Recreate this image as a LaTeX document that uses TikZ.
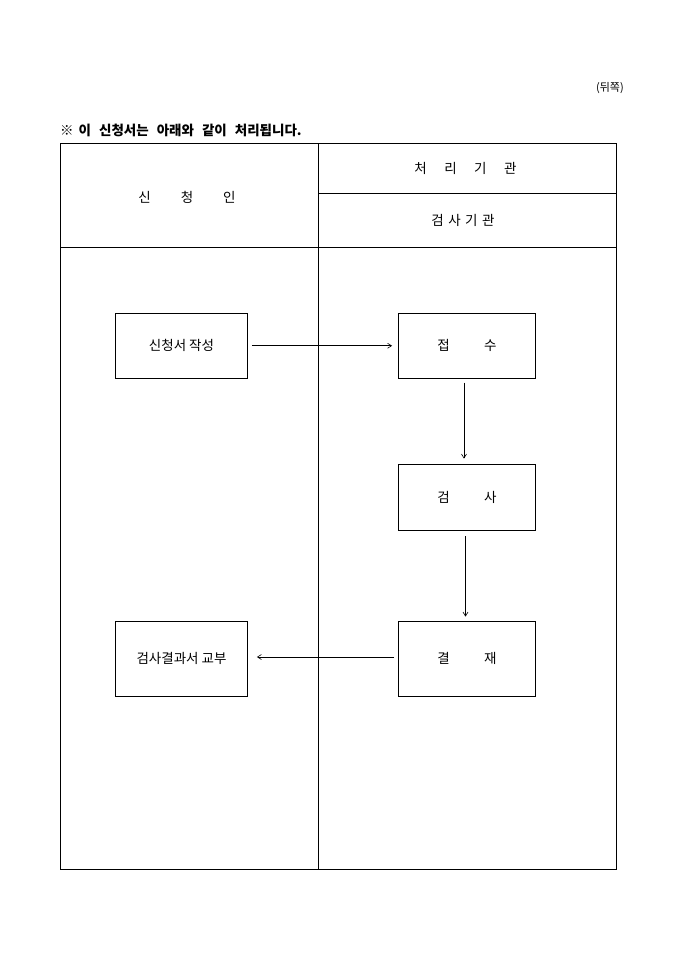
\documentclass[tikz,border=0pt]{standalone}
\usepackage{fontspec}
\setmainfont{Noto Sans CJK KR}
\usetikzlibrary{arrows.meta}
\begin{document}
\begin{tikzpicture}[x=1pt,y=-1pt,
  tbl/.style={line width=0.9pt},
  flowbox/.style={draw,line width=0.8pt,rectangle,inner sep=0pt,font=\fontsize{13.5}{15}\selectfont},
  flowarrow/.style={line width=0.6pt,-{Straight Barb[length=4pt,width=5pt]}},
  lbl/.style={inner sep=0pt,font=\fontsize{13.5}{15}\selectfont}]
\useasboundingbox (0,0) rectangle (680,962);
\fill[white] (0,0) rectangle (680,962);
% page texts
\node[lbl,anchor=east,font=\fontsize{11}{13}\selectfont] (side) at (624,88) {(뒤쪽)};
\node[lbl,anchor=west,font=\bfseries\fontsize{13.5}{15}\selectfont] (title) at (60,130) {※\hspace{5pt}이\hspace{8pt}신청서는\hspace{8pt}아래와\hspace{8pt}같이\hspace{8pt}처리됩니다.};
% table
\draw[tbl] (60,143) rectangle (616,869);
\draw[tbl] (318,143) -- (318,869);
\draw[tbl] (60,247) -- (616,247);
\draw[tbl] (318,193) -- (616,193);
\node[lbl] (h1) at (187,197) {신\hspace{30pt}청\hspace{30pt}인};
\node[lbl] (h2) at (465.5,168) {처\hspace{17.5pt}리\hspace{17.5pt}기\hspace{17.5pt}관};
\node[lbl] (h3) at (463,220) {검\hspace{4.5pt}사\hspace{4.5pt}기\hspace{4.5pt}관};
% boxes
\node[flowbox,minimum width=132pt,minimum height=65pt] (b1) at (181.5,345.75) {신청서 작성};
\node[flowbox,minimum width=137pt,minimum height=65pt] (b2) at (467,345.75) {접\hspace{34.5pt}수\hspace{6pt}};
\node[flowbox,minimum width=137pt,minimum height=66pt] (b3) at (467,497) {검\hspace{34.5pt}사\hspace{6pt}};
\node[flowbox,minimum width=137pt,minimum height=75pt] (b4) at (467,658.5) {결\hspace{34.5pt}재\hspace{6pt}};
\node[flowbox,minimum width=132pt,minimum height=75pt] (b5) at (181.5,658.5) {검사결과서 교부};
% arrows
\draw[flowarrow,shorten <=4pt,shorten >=6pt] (b1.east) -- (b1.east -| b2.west);
\draw[flowarrow,shorten <=4pt,shorten >=5pt] ([xshift=-3pt]b2.south) -- ([xshift=-3pt]b3.north);
\draw[flowarrow,shorten <=6pt,shorten >=4pt] ([xshift=-1.5pt]b3.south) -- ([xshift=-1.5pt]b4.north);
\draw[flowarrow,shorten <=4pt,shorten >=9pt] ([yshift=1.5pt]b4.west) -- ([yshift=1.5pt]b5.east);
\end{tikzpicture}
\end{document}
